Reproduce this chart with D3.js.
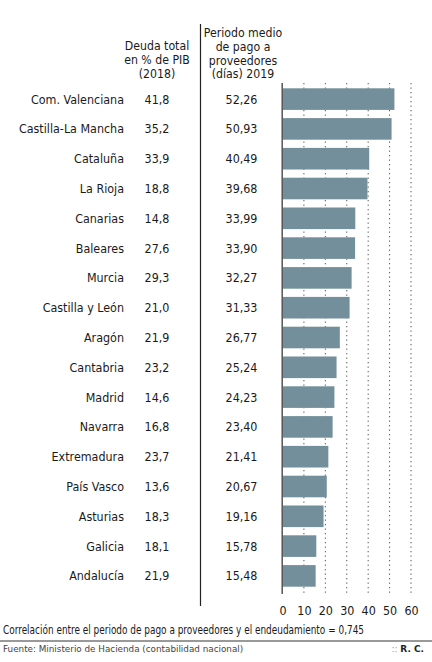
<!DOCTYPE html>
<html><head><meta charset="utf-8">
<script src="https://cdn.jsdelivr.net/npm/d3@7"></script>
<style>
body{margin:0;background:#fff;}
svg{display:block;}
.cf{font-family:"Liberation Sans Narrow","DejaVu Sans Condensed","Roboto Condensed",Roboto,sans-serif;font-stretch:condensed;}
</style></head>
<body><svg id="c" width="432" height="662"></svg>
<script>
const regions = ["Com. Valenciana","Castilla-La Mancha","Cataluña","La Rioja","Canarias","Baleares","Murcia","Castilla y León","Aragón","Cantabria","Madrid","Navarra","Extremadura","País Vasco","Asturias","Galicia","Andalucía"];
const debt = ["41,8","35,2","33,9","18,8","14,8","27,6","29,3","21,0","21,9","23,2","14,6","16,8","23,7","13,6","18,3","18,1","21,9"];
const days = [52.26,50.93,40.49,39.68,33.99,33.90,32.27,31.33,26.77,25.24,24.23,23.40,21.41,20.67,19.16,15.78,15.48];
const ticks = [0,10,20,30,40,50,60];
const debtHeader = ["Deuda total","en % de PIB","(2018)"];
const daysHeader = ["Periodo medio","de pago a","proveedores","(días) 2019"];

const svg = d3.select("#c");
const fmt = v => v.toFixed(2).replace(".", ",");
const x = d3.scaleLinear().domain([0,60]).range([282.5,411]);
const y = d3.scaleBand().domain(regions).range([84.2,590.8]).paddingInner(0.275).paddingOuter(0.1375);
const txt = "#1a1a1a";
const fs = 12.4;

// headers
const g = svg.append("g").attr("class","cf").attr("fill",txt).attr("font-size",12.2);
g.selectAll(".h1").data(debtHeader).join("text").attr("x",157).attr("y",(d,i)=>49.5+i*14).attr("text-anchor","middle").text(d=>d);
g.selectAll(".h2").data(daysHeader).join("text").attr("x",243).attr("y",(d,i)=>37+i*13.8).attr("text-anchor","middle").text(d=>d);

// divider
svg.append("line").attr("x1",200.5).attr("x2",200.5).attr("y1",24).attr("y2",606).attr("stroke","#222").attr("stroke-width",1.2);

// grid
svg.append("g").selectAll("line").data(ticks.slice(1)).join("line")
  .attr("x1",d=>x(d)).attr("x2",d=>x(d)).attr("y1",83).attr("y2",594)
  .attr("stroke","#555").attr("stroke-width",1).attr("stroke-dasharray","1.3,3.2");

// bars
svg.append("g").selectAll("rect").data(regions).join("rect")
  .attr("x",x(0)).attr("y",d=>y(d)).attr("height",y.bandwidth())
  .attr("width",(d,i)=>x(days[i])-x(0)).attr("fill","#738f9b");

// baseline
svg.append("line").attr("x1",x(0)-0.3).attr("x2",x(0)-0.3).attr("y1",83).attr("y2",594).attr("stroke","#555").attr("stroke-width",1.5);

// row labels
const rows = svg.append("g").attr("class","cf").attr("fill",txt).attr("font-size",fs);
rows.selectAll(".r").data(regions).join("text").attr("x",124).attr("y",d=>y(d)+y.bandwidth()/2).attr("dy","0.36em").attr("text-anchor","end").text(d=>d);
rows.selectAll(".d").data(regions).join("text").attr("x",157).attr("y",d=>y(d)+y.bandwidth()/2).attr("dy","0.36em").attr("text-anchor","middle").text((d,i)=>debt[i]);
rows.selectAll(".p").data(regions).join("text").attr("x",241.5).attr("y",d=>y(d)+y.bandwidth()/2).attr("dy","0.36em").attr("text-anchor","middle").text((d,i)=>fmt(days[i]));

// axis
const ax = svg.append("g").attr("transform","translate(0,611)")
  .call(d3.axisBottom(x).tickValues(ticks).tickSize(0).tickPadding(0));
ax.select(".domain").remove();
ax.selectAll("text").attr("class","cf").attr("font-size",fs).attr("font-family",null).attr("fill",txt).attr("dy","0.36em").attr("y",0);

// footer
svg.append("text").attr("class","cf").attr("x",3).attr("y",633.5).attr("font-size",11.5).attr("fill",txt)
  .attr("textLength",361).attr("lengthAdjust","spacingAndGlyphs")
  .text("Correlación entre el periodo de pago a proveedores y el endeudamiento = 0,745");
svg.append("line").attr("x1",0).attr("x2",432).attr("y1",641).attr("y2",641).attr("stroke","#999").attr("stroke-width",2);
svg.append("text").attr("x",3).attr("y",652).attr("font-family","'DejaVu Sans',sans-serif").attr("font-size",8.8).attr("fill","#444")
  .text("Fuente: Ministerio de Hacienda (contabilidad nacional)");
const rc = svg.append("text").attr("x",424).attr("y",652).attr("text-anchor","end").attr("font-family","'DejaVu Sans',sans-serif").attr("font-size",9);
rc.append("tspan").attr("fill","#999").text(":: ");
rc.append("tspan").attr("fill","#222").attr("font-weight","bold").text("R. C.");
</script></body></html>
